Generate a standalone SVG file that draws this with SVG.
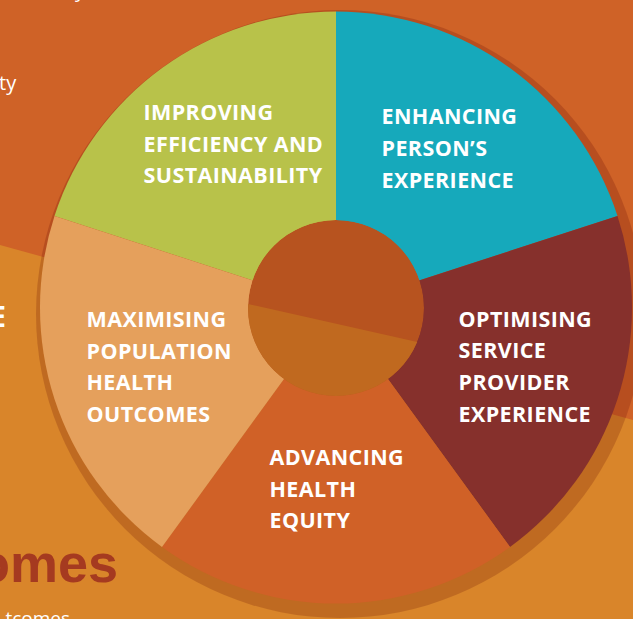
<svg xmlns="http://www.w3.org/2000/svg" width="633" height="619" viewBox="0 0 633 619">
  <defs>
    <style>
      .lbl { font-family: "Open Sans", "Liberation Sans", sans-serif; font-weight: 700; font-size: 21.5px; fill: #ffffff; letter-spacing: 0.4px; }
      .side { font-family: "Open Sans", "Liberation Sans", sans-serif; fill: #ffffff; }
    </style>
    <clipPath id="hubClip">
      <circle cx="336" cy="308" r="88"/>
    </clipPath>
  </defs>

  <!-- backdrop: light lower field with a darker band across the top -->
  <rect x="0" y="0" width="633" height="619" fill="#d9852a"/>
  <polygon points="0,0 633,0 633,420 0,245" fill="#cf6227"/>

  <!-- partial page texts at the left edge -->
  <text class="side" x="75" y="-3" font-size="20">y</text>
  <text class="side" x="-1" y="90" font-size="20">ty</text>
  <text class="side" x="6" y="327" font-size="28" font-weight="700" text-anchor="end">E</text>
  <text x="118" y="582" font-family="Liberation Sans, Arial, sans-serif" font-weight="700" font-size="54" fill="#a53a20" text-anchor="end">omes</text>
  <text class="side" x="70" y="625" font-size="19" text-anchor="end">tcomes</text>

  <!-- drop shadow under the wheel -->
  <circle cx="340" cy="314" r="304" fill="rgb(92,2,2)" fill-opacity="0.2"/>

  <!-- wheel segments -->
  <g id="seg-efficiency">
    <path d="M336,307.5 L54.5,216 A296,296 0 0 1 336,11.5 Z" fill="#b8c24a"/>
    <text class="lbl" x="143.5" y="120">IMPROVING</text>
    <text class="lbl" x="143.5" y="152">EFFICIENCY AND</text>
    <text class="lbl" x="143.5" y="183">SUSTAINABILITY</text>
  </g>
  <g id="seg-person">
    <path d="M336,307.5 L336,11.5 A296,296 0 0 1 617.5,216 Z" fill="#16a9bb"/>
    <text class="lbl" x="381.5" y="124">ENHANCING</text>
    <text class="lbl" x="381.5" y="156">PERSON’S</text>
    <text class="lbl" x="381.5" y="188">EXPERIENCE</text>
  </g>
  <g id="seg-provider">
    <path d="M336,307.5 L617.5,216 A296,296 0 0 1 510,547 Z" fill="#86302c"/>
    <text class="lbl" x="458.5" y="327">OPTIMISING</text>
    <text class="lbl" x="458.5" y="358">SERVICE</text>
    <text class="lbl" x="458.5" y="390">PROVIDER</text>
    <text class="lbl" x="458.5" y="422">EXPERIENCE</text>
  </g>
  <g id="seg-equity">
    <path d="M336,307.5 L510,547 A296,296 0 0 1 162,547 Z" fill="#d06127"/>
    <text class="lbl" x="269.5" y="465">ADVANCING</text>
    <text class="lbl" x="269.5" y="497">HEALTH</text>
    <text class="lbl" x="269.5" y="528">EQUITY</text>
  </g>
  <g id="seg-population">
    <path d="M336,307.5 L162,547 A296,296 0 0 1 54.5,216 Z" fill="#e5a05c"/>
    <text class="lbl" x="86.5" y="327">MAXIMISING</text>
    <text class="lbl" x="86.5" y="359">POPULATION</text>
    <text class="lbl" x="86.5" y="390">HEALTH</text>
    <text class="lbl" x="86.5" y="422">OUTCOMES</text>
  </g>

  <!-- centre hub, split in two tones -->
  <g id="hub" clip-path="url(#hubClip)">
    <circle cx="336" cy="308" r="88" fill="#b7531f"/>
    <polygon points="240,302.2 430,344.9 430,400 240,400" fill="#c0691f"/>
  </g>
</svg>
